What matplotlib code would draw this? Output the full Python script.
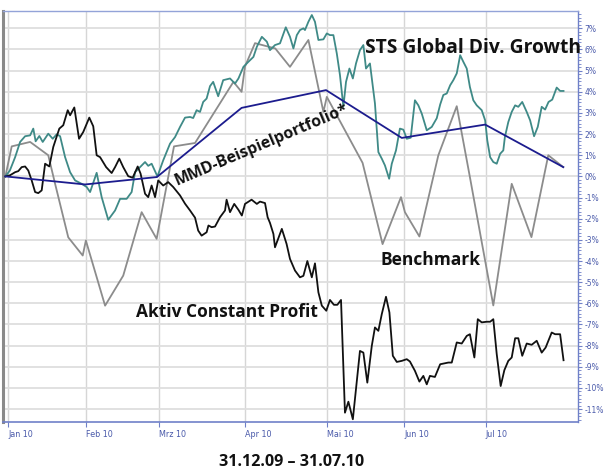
import matplotlib
matplotlib.use("Agg")
import matplotlib.pyplot as plt
from matplotlib.ticker import FixedLocator, AutoMinorLocator

# ---------------- data (x = days since 31.12.2009, y = performance in %) ----------------
sts_days = [0, 1.7, 3.7, 5.6, 7.5, 9.4, 10.6, 11.5, 12.9, 14.2, 16.3, 18.0, 19.5, 20.8, 22.7, 24.6,
            26.5, 29.0, 30.9, 32.2, 34.7, 36.6, 39.1, 41.7, 43.6, 46.1, 48.0, 49.3, 51.2, 53.1, 54.3,
            55.6, 57.8, 60.0, 62.6, 64.5, 66.4, 68.3, 70.2, 71.4, 72.7, 74.0, 75.2, 76.5, 77.8, 79.0,
            80.9, 82.8, 85.4, 87.3, 88.6, 90.5, 92.4, 94.3, 95.6, 97.5, 99.4, 100.6, 102.5, 104.4,
            106.6, 108.2, 109.5, 110.8, 112.0, 113.3, 113.9, 115.2, 116.5, 117.7, 119.0, 120.9, 122.2,
            123.4, 124.7, 126.0, 127.2, 128.5, 129.5, 130.8, 132.1, 133.3, 134.8, 136.1, 137.1, 138.6,
            140.5, 141.8, 143.1, 144.3, 145.9, 146.9, 148.5, 150.0, 151.3, 152.6, 154.1, 155.7, 157.0,
            158.3, 160.2, 162.1, 164.0, 165.3, 166.5, 167.8, 169.1, 170.3, 171.6, 172.9, 174.1, 175.4,
            176.6, 177.9, 179.2, 181.1, 182.4, 183.2, 184.3, 185.5, 186.8, 188.1, 189.3, 189.9, 191.2,
            192.5, 193.8, 195.0, 196.5, 198.2, 199.5, 201.0, 202.4, 203.9, 205.2, 206.5, 207.9, 209.6,
            210.9, 212.2]
sts_vals = [0.0, 0.28, 0.91, 1.63, 1.9, 1.94, 2.26, 1.66, 1.91, 1.63, 2.02, 1.78, 1.99, 1.9, 0.91, 0.2,
            -0.19, -0.35, -0.5, -0.74, 0.17, -0.98, -2.05, -1.61, -1.06, -1.06, -0.74, 0.2, 0.44, 0.68, 0.5,
            0.6, 0.0, 0.76, 1.55, 1.86, 2.34, 2.78, 2.81, 2.76, 3.13, 3.05, 3.52, 3.68, 4.27, 4.47,
            3.79, 4.55, 4.63, 4.39, 4.63, 5.18, 5.42, 5.65, 6.13, 6.6, 6.37, 5.97, 6.21, 6.29,
            7.05, 6.6, 6.05, 6.68, 6.92, 7.0, 6.92, 7.31, 7.63, 7.31, 6.45, 6.48, 6.76,
            6.68, 6.68, 5.81, 4.79, 3.29, 4.47, 5.1, 4.63, 5.34, 5.97, 6.21, 5.1, 5.34,
            3.45, 1.15, 0.84, 0.52, -0.11, 0.6, 1.23, 2.26, 2.21, 1.78, 1.83, 3.6, 3.36,
            2.97, 2.18, 2.34, 2.75, 3.4, 3.85, 3.92, 4.31, 4.55, 4.87, 5.73, 5.42, 5.1,
            4.23, 3.6, 3.36, 3.13, 2.65, 1.71, 0.91, 0.68, 0.6, 1.07, 1.23, 1.86, 2.57,
            3.05, 3.36, 3.29, 3.52, 3.05, 2.65, 1.9, 2.34, 3.29, 3.16, 3.52, 3.63, 4.2,
            4.04, 4.04]

acp_days = [0, 1.7, 3.7, 4.9, 6.2, 7.5, 8.7, 10.0, 11.3, 12.5, 13.8, 15.1, 16.7, 18.2, 20.5, 22.0,
            23.7, 24.6, 26.2, 28.0, 29.6, 31.9, 33.4, 34.7, 36.0, 38.3, 40.4, 41.7, 43.3, 44.8, 46.7,
            48.4, 50.3, 51.4, 53.1, 54.3, 55.6, 56.9, 58.1, 60.0, 61.9, 63.8, 66.4, 68.3, 70.2, 72.1,
            73.3, 74.6, 76.5, 77.2, 78.4, 79.7, 81.6, 83.5, 84.1, 85.4, 87.0, 88.6, 89.9, 91.1, 93.6,
            95.6, 96.8, 98.7, 99.7, 100.6, 101.9, 102.5, 105.1, 106.9, 108.2, 110.1, 112.0, 113.3,
            114.8, 116.5, 117.7, 119.0, 120.3, 122.0, 123.4, 124.9, 126.2, 127.6, 129.1, 130.4,
            132.1, 134.8, 136.1, 137.6, 139.3, 140.5, 141.8, 143.1, 144.7, 146.0, 147.3, 148.8,
            150.7, 152.6, 153.8, 155.7, 157.4, 158.9, 160.2, 161.4, 163.3, 165.3, 166.5, 168.4,
            169.7, 171.6, 173.5, 175.4, 176.6, 178.3, 179.6, 181.1, 183.0, 184.3, 185.5, 186.8,
            188.3, 189.7, 191.2, 192.5, 193.8, 195.0, 196.5, 198.2, 200.1, 202.0, 203.9, 205.4,
            207.7, 209.0, 210.9, 212.2]
acp_vals = [0.0, 0.05, 0.2, 0.25, 0.44, 0.47, 0.28, -0.19, -0.74, -0.79, -0.66, 0.6, 0.47, 1.39, 2.26, 2.42,
            3.13, 2.89, 3.26, 1.78, 2.1, 2.78, 2.37, 1.0, 0.91, 0.44, 0.16, 0.44, 0.84, 0.44, 0.01,
            -0.06, 0.47, 0.13, -0.82, -0.98, -0.43, -0.98, -0.19, -0.43, -0.27, -0.5, -0.9, -1.29, -1.61, -1.95,
            -2.56, -2.8, -2.64, -2.32, -2.4, -2.37, -1.93, -1.61, -1.1, -1.69, -1.3, -1.58, -1.85, -1.3, -1.1,
            -1.3, -1.19, -1.26, -1.93, -2.2, -2.72, -3.35, -2.48, -3.19, -3.9, -4.45, -4.77, -4.7,
            -4.0, -4.77, -4.11, -5.48, -6.11, -6.35, -5.84, -6.07, -6.07, -5.84, -11.17, -10.65,
            -11.48, -8.25, -8.33, -9.75, -8.01, -7.14, -7.3, -6.51, -5.69, -6.43, -8.48, -8.77,
            -8.72, -8.64, -8.75, -9.19, -9.7, -9.43, -9.83, -9.43, -9.48, -8.88, -8.85, -8.8,
            -8.8, -7.85, -7.9, -7.54, -7.46, -8.56, -6.75, -6.9, -6.87, -6.87, -6.75, -8.4,
            -9.91, -9.16, -8.72, -8.56, -7.65, -7.65, -8.48, -7.9, -7.96, -7.77, -8.33, -8.09,
            -7.38, -7.46, -7.46, -8.69]

bench_days = [0, 2.4, 9.4, 16.3, 18.9, 23.9, 29.4, 30.6, 37.9, 44.8, 51.8, 55.0, 57.5, 64.1, 72.1,
              86.7, 89.8, 91.1, 94.9, 102.6, 108.2, 115.2, 120.9, 122.2, 135.8, 143.4, 150.4, 151.9,
              157.4, 164.6, 171.6, 176.6, 180.8, 185.5, 192.5, 200.0, 206.4, 212.1]
bench_vals = [0.0, 1.42, 1.63, 1.0, -0.35, -2.88, -3.74, -3.03, -6.11, -4.69, -1.69, -2.4, -2.95, 1.42, 1.58,
              4.47, 4.0, 5.2, 6.3, 6.05, 5.18, 6.45, 3.05, 3.76, 0.64, -3.2, -0.98, -1.69,
              -2.84, 1.0, 3.32, -0.03, -2.9, -6.1, -0.35, -2.87, 1.0, 0.44]

mmd_days = [0, 30.3, 57.6, 89.8, 121.9, 150.7, 182.4, 212.1]
mmd_vals = [0.0, -0.38, -0.03, 3.24, 4.08, 1.82, 2.45, 0.44]

month_labels = ["Jan 10", "Feb 10", "Mrz 10", "Apr 10", "Mai 10", "Jun 10", "Jul 10"]
month_days = [1.0, 30.6, 58.4, 91.1, 122.3, 151.6, 182.7]
y_ticks = list(range(-11, 8))

# ---------------- figure ----------------
fig = plt.figure(figsize=(6.04, 4.70), dpi=100)
ax = fig.add_axes([3 / 604, 48 / 470, 575 / 604, 411 / 470])
ax.set_xlim(-0.91, 217.7)
ax.set_ylim(-11.61, 7.82)

ax.plot(bench_days, bench_vals, color="#8c8c8c", lw=1.3, zorder=3)
ax.plot(sts_days, sts_vals, color="#3f8a87", lw=1.3, zorder=4)
ax.plot(acp_days, acp_vals, color="#111111", lw=1.3, zorder=5)
ax.plot(mmd_days, mmd_vals, color="#1c1c8e", lw=1.3, zorder=6)

# axes styling
axis_blue = "#6f80c8"
lab_blue = "#4a5aaa"
ax.yaxis.tick_right()
ax.yaxis.set_major_locator(FixedLocator(y_ticks))
ax.set_yticklabels([f"{v}%" for v in y_ticks])
ax.yaxis.set_minor_locator(AutoMinorLocator(6))
ax.tick_params(axis="y", which="major", length=3.0, width=0.8, color=axis_blue,
               labelcolor=lab_blue, labelsize=5.5, pad=1.5)
ax.tick_params(axis="y", which="minor", length=2, width=0.6, color=axis_blue)
ax.xaxis.set_major_locator(FixedLocator(month_days))
ax.set_xticklabels(month_labels, ha="left")
ax.tick_params(axis="x", which="major", length=3.5, width=0.8, color=axis_blue,
               labelcolor=lab_blue, labelsize=5.8, pad=2)

ax.grid(True, axis="y", color="#dedede", lw=1.3, zorder=0)
ax.grid(True, axis="x", color="#d6d6d6", lw=1.0, zorder=0)
ax.set_axisbelow(True)

ax.spines["left"].set_color("#8a8a8a")
ax.spines["left"].set_linewidth(2.2)
ax.spines["top"].set_color("#93a3d8")
ax.spines["top"].set_linewidth(1.0)
ax.spines["right"].set_color(axis_blue)
ax.spines["right"].set_linewidth(1.0)
ax.spines["bottom"].set_color(axis_blue)
ax.spines["bottom"].set_linewidth(1.2)

# series labels
lab_font = dict(family=["Open Sans", "DejaVu Sans"], fontweight="bold", color="#111111")
ax.text(136.7, 5.83, "STS Global Div. Growth", fontsize=13.9, ha="left", va="baseline",
        clip_on=False, zorder=7, **lab_font)
ax.text(142.8, -4.19, "Benchmark", fontsize=12.5, ha="left", va="baseline", zorder=7, **lab_font)
ax.text(49.7, -6.66, "Aktiv Constant Profit", fontsize=12.5, ha="left", va="baseline", zorder=7, **lab_font)
ax.text(65.3, -0.41, "MMD-Beispielportfolio*", fontsize=11.4, ha="left", va="baseline",
        rotation=23, rotation_mode="anchor", zorder=7, **lab_font)

fig.text(292 / 604, 1 - 465.5 / 470, "31.12.09 \u2013 31.07.10", ha="center", va="baseline",
         fontsize=11.6, **lab_font)

fig.savefig("out.png", dpi=100)
